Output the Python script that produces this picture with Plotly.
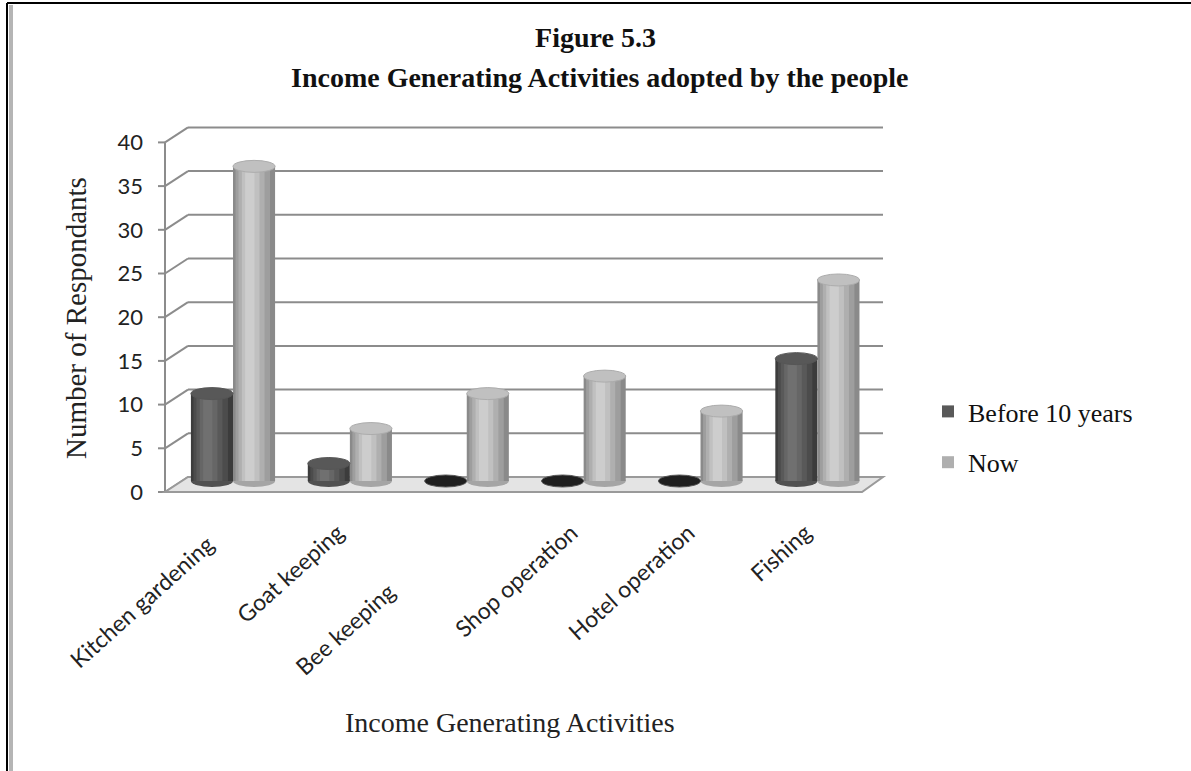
import plotly.graph_objects as go

# ---- data -------------------------------------------------------------
categories = ["Kitchen gardening", "Goat keeping", "Bee keeping",
              "Shop operation", "Hotel operation", "Fishing"]
before_10_years = [10, 2, 0, 0, 0, 14]
now = [36, 6, 10, 12, 8, 23]
y_ticks = [0, 5, 10, 15, 20, 25, 30, 35, 40]

# ---- geometry (pixels -> axis units) ----------------------------------
W, H = 1191, 771
L, R, T, B = 150, 900, 118, 500
UNIT_X = 116.88   # pixels per category step
UNIT_Y = 8.74     # pixels per respondent
X0_PX = 233       # centre of first category
Y0_PX = 481       # value 0 at the bar plane

x_range = [(L - X0_PX) / UNIT_X, (R - X0_PX) / UNIT_X]
y_range = [-(B - Y0_PX) / UNIT_Y, (Y0_PX - T) / UNIT_Y]

FRONT_LEFT = (165 - X0_PX) / UNIT_X
BACK_LEFT = (188 - X0_PX) / UNIT_X
FRONT_RIGHT = (862 - X0_PX) / UNIT_X
BACK_RIGHT = (883 - X0_PX) / UNIT_X
FRONT_DY = -(492 - Y0_PX) / UNIT_Y
BACK_DY = (Y0_PX - 477) / UNIT_Y
TICK_LEN = 7 / UNIT_X
BAR_W = 0.36
CAP_H = 6 / UNIT_Y


def hex2rgb(c):
    c = c.lstrip("#")
    return tuple(int(c[i:i + 2], 16) for i in (0, 2, 4))


def mix(c1, c2, t):
    a, b = hex2rgb(c1), hex2rgb(c2)
    return "rgb(%d,%d,%d)" % tuple(round(a[i] + (b[i] - a[i]) * t) for i in range(3))


GRID = "#8c8c8c"
shapes = []

# back wall gridlines and the diagonals joining them to the front axis
for v in y_ticks:
    shapes.append(dict(type="line", layer="below", xref="x", yref="y",
                       x0=BACK_LEFT, x1=BACK_RIGHT, y0=v + BACK_DY, y1=v + BACK_DY,
                       line=dict(color=GRID, width=2)))
    shapes.append(dict(type="line", layer="below", xref="x", yref="y",
                       x0=FRONT_LEFT, x1=BACK_LEFT, y0=v + FRONT_DY, y1=v + BACK_DY,
                       line=dict(color=GRID, width=2)))
    shapes.append(dict(type="line", layer="below", xref="x", yref="y",
                       x0=FRONT_LEFT - TICK_LEN, x1=FRONT_LEFT, y0=v + FRONT_DY, y1=v + FRONT_DY,
                       line=dict(color=GRID, width=2)))

# front value axis
shapes.append(dict(type="line", layer="below", xref="x", yref="y",
                   x0=FRONT_LEFT, x1=FRONT_LEFT, y0=FRONT_DY, y1=y_ticks[-1] + FRONT_DY,
                   line=dict(color=GRID, width=2)))

# floor
floor_path = "M {a},{b} L {c},{b} L {d},{e} L {f},{e} Z".format(
    a=FRONT_LEFT, b=FRONT_DY, c=FRONT_RIGHT, d=BACK_RIGHT, e=BACK_DY, f=BACK_LEFT)
shapes.append(dict(type="path", layer="below", xref="x", yref="y", path=floor_path,
                   fillcolor="#e4e4e4", line=dict(color="#9a9a9a", width=2)))

series = [
    ("Before 10 years", before_10_years, -BAR_W, "#3c3c3c", "#707070", "#585858", "#1f1f1f"),
    ("Now", now, 0.0, "#8a8a8a", "#cdcdcd", "#c0c0c0", "#bdbdbd"),
]

# shading layers: (width fraction, centre fraction, highlight mix)
layers = [(1.0, 0.5, 0.0), (0.82, 0.47, 0.3), (0.62, 0.44, 0.55),
          (0.42, 0.42, 0.8), (0.22, 0.40, 1.0)]

fig = go.Figure()
for name, vals, start, edge, light, top, flat in series:
    for k, (frac, centre, t) in enumerate(layers):
        fig.add_trace(go.Bar(
            x=categories, y=vals, name=name, legendgroup=name,
            showlegend=(k == 2),
            width=BAR_W * frac,
            offset=start + BAR_W * (centre - frac / 2),
            marker=dict(color=mix(edge, light, t), line=dict(width=0)),
            hovertemplate="%{x}<br>" + name + ": %{y}<extra></extra>",
        ))
    for i, v in enumerate(vals):
        x0 = i + start
        if v > 0:
            # rounded base of the cylinder
            shapes.append(dict(type="circle", layer="below", xref="x", yref="y",
                               x0=x0, x1=x0 + BAR_W, y0=-CAP_H, y1=CAP_H,
                               fillcolor=mix(edge, light, 0.4), line=dict(width=0)))
        # top face of the cylinder
        shapes.append(dict(type="circle", layer="above", xref="x", yref="y",
                           x0=x0, x1=x0 + BAR_W, y0=v - CAP_H, y1=v + CAP_H,
                           fillcolor=top if v > 0 else flat,
                           line=dict(color=mix(edge, light, 0.5), width=1)))


# page frame
def pxx(p):
    return (p - L) / (R - L)


def pxy(p):
    return (B - p) / (B - T)


shapes.append(dict(type="line", xref="paper", yref="paper",
                   x0=pxx(7), x1=pxx(1191), y0=pxy(3), y1=pxy(3),
                   line=dict(color="#000", width=2)))
shapes.append(dict(type="line", xref="paper", yref="paper",
                   x0=pxx(7), x1=pxx(7), y0=pxy(3), y1=pxy(771),
                   line=dict(color="#000", width=2)))
shapes.append(dict(type="line", xref="paper", yref="paper",
                   x0=pxx(11), x1=pxx(11), y0=pxy(5), y1=pxy(771),
                   line=dict(color="#b5b5b5", width=4)))

NB = "\u00a0"
label_pad = {"Kitchen gardening": 3, "Bee keeping": 15}
tick_text = [c + NB * label_pad.get(c, 0) for c in categories]

SERIF = "Liberation Serif"

fig.update_layout(
    width=W, height=H,
    margin=dict(l=L, r=W - R, t=T, b=H - B),
    paper_bgcolor="white", plot_bgcolor="white",
    barmode="overlay",
    shapes=shapes,
    title=dict(text="<b>Figure 5.3</b>",
               x=0.5, xref="container", xanchor="center",
               y=1 - 37 / H, yref="container", yanchor="middle",
               font=dict(family=SERIF, size=28, color="#111")),
    xaxis=dict(type="category", range=x_range, showgrid=False, showline=False,
               zeroline=False, ticks="", tickangle=-42, ticklabelstandoff=14,
               ticklabelshift=-12,
               tickvals=categories, ticktext=tick_text,
               tickfont=dict(family="Lato", size=23, color="#222")),
    yaxis=dict(range=y_range, showgrid=False, showline=False, zeroline=False,
               ticks="", tickvals=y_ticks, ticklabelshift=11, ticklabelstandoff=6,
               tickfont=dict(family="Lato", size=22, color="#222")),
    legend=dict(x=928 / W, xref="container", xanchor="left",
                y=1 - 388 / H, yref="container", yanchor="top",
                traceorder="grouped", tracegroupgap=14,
                font=dict(family=SERIF, size=26, color="#111"),
                bgcolor="rgba(0,0,0,0)"),
    annotations=[
        dict(text="<b>Income Generating Activities adopted by the people</b>",
             xref="paper", yref="paper", x=pxx(600), y=pxy(78),
             xanchor="center", yanchor="middle", showarrow=False,
             font=dict(family=SERIF, size=28, color="#111")),
        dict(text="Number of Respondants", xref="paper", yref="paper",
             x=pxx(76), y=pxy(318), textangle=-90, showarrow=False,
             xanchor="center", yanchor="middle",
             font=dict(family=SERIF, size=29, color="#222")),
        dict(text="Income Generating Activities", xref="paper", yref="paper",
             x=pxx(510), y=pxy(722), showarrow=False,
             xanchor="center", yanchor="middle",
             font=dict(family=SERIF, size=28, color="#222")),
    ],
    showlegend=True,
)

fig.write_html("out.html")
